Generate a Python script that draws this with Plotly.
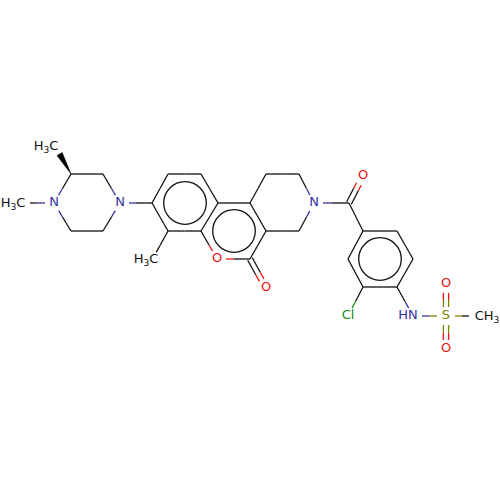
import plotly.graph_objects as go

# Atoms
elementos = ['C', 'N', 'C', 'C', 'N', 'C', 'C', 'C',
             'C', 'C', 'C', 'C', 'C', 'C', 'C',
             'O', 'C', 'O', 'C', 'C', 'C', 'C', 'N', 'C',
             'C', 'O', 'C', 'C', 'C', 'C', 'C', 'C',
             'Cl', 'N', 'S', 'O', 'O', 'C']
atom_x = [21, 54, 71, 103, 120, 103, 71, 55,
          152, 168, 201, 218, 201, 168, 152,
          217, 250, 266, 250, 266, 266, 299, 314, 299,
          349, 363, 363, 397, 413, 397, 363, 348,
          348, 413, 446, 446, 446, 478]
atom_y = [203, 203, 174, 174, 203, 231, 231, 146,
          203, 174, 174, 203, 231, 231, 260,
          259, 259, 288, 203, 231, 174, 174, 203, 231,
          203, 176, 231, 231, 259, 287, 287, 259,
          316, 316, 316, 284, 349, 316]

# (atom, atom, order)
ligacoes = [(0, 1, 1), (1, 2, 1), (2, 3, 1), (3, 4, 1), (4, 5, 1), (5, 6, 1), (6, 1, 1),
            (4, 8, 1), (8, 9, 1), (9, 10, 1), (10, 11, 1), (11, 12, 1), (12, 13, 1), (13, 8, 1),
            (13, 14, 1), (12, 15, 1), (15, 16, 1), (16, 17, 2), (16, 19, 1), (19, 18, 1), (18, 11, 1),
            (18, 20, 1), (20, 21, 1), (21, 22, 1), (22, 23, 1), (23, 19, 1),
            (22, 24, 1), (24, 25, 2), (24, 26, 1), (26, 27, 1), (27, 28, 1), (28, 29, 1),
            (29, 30, 1), (30, 31, 1), (31, 26, 1), (30, 32, 1), (29, 33, 1),
            (33, 34, 1), (34, 35, 2), (34, 36, 2), (34, 37, 1)]

aneis_x = [185, 234, 380]
aneis_y = [203, 231, 259]
aneis_r = [21.3, 21.3, 21.3]

rotulos = ['H<sub>3</sub>C', 'N', 'N', 'H<sub>3</sub>C', 'H<sub>3</sub>C', 'O', 'O', 'N', 'O',
           'Cl', 'HN', 'S', 'O', 'O', 'CH<sub>3</sub>']
rotulos_x = [13, 54, 120, 46, 146, 217, 266, 314, 363, 348, 408, 446, 446, 446, 487]
rotulos_y = [204, 203, 203, 147, 260, 259, 288, 203, 176, 316, 316, 316, 284, 349, 317]
rotulos_cor = ['#111111', '#3333a0', '#3333a0', '#111111', '#111111', '#f01010', '#f01010', '#3333a0',
               '#f01010', '#109010', '#3333a0', '#808000', '#f01010', '#f01010', '#111111']

cores = {'C': '#111111', 'N': '#3333a0', 'O': '#f01010', 'Cl': '#109010', 'S': '#808000'}

# Atoms that carry a label, so the bond stops short of them
com_rotulo = {0, 1, 4, 7, 14, 15, 17, 22, 25, 32, 33, 34, 35, 36, 37}
folga = 9

fig = go.Figure()

segmentos = {}
for a, b, ordem in ligacoes:
    xa, ya, xb, yb = atom_x[a], atom_y[a], atom_x[b], atom_y[b]
    comp = ((xb - xa) ** 2 + (yb - ya) ** 2) ** 0.5
    ux, uy = (xb - xa) / comp, (yb - ya) / comp
    ini = folga if a in com_rotulo else 0
    fim = comp - folga if b in com_rotulo else comp
    for d in ([-2.6, 2.6] if ordem == 2 else [0]):
        ox, oy = -uy * d, ux * d
        p0 = (xa + ux * ini + ox, ya + uy * ini + oy)
        m = (xa + ux * comp / 2 + ox, ya + uy * comp / 2 + oy)
        p1 = (xa + ux * fim + ox, ya + uy * fim + oy)
        for cor, q0, q1 in [(cores[elementos[a]], p0, m), (cores[elementos[b]], m, p1)]:
            s = segmentos.setdefault(cor, ([], []))
            s[0].extend([q0[0], q1[0], None])
            s[1].extend([q0[1], q1[1], None])

for cor, (xs, ys) in segmentos.items():
    fig.add_trace(go.Scatter(x=xs, y=ys, mode='lines', line=dict(color=cor, width=1.3), hoverinfo='skip'))

# Stereo wedge from the ring carbon to its methyl
ux = atom_x[7] - atom_x[2]
uy = atom_y[7] - atom_y[2]
comp = (ux ** 2 + uy ** 2) ** 0.5
ux, uy = ux / comp, uy / comp
ponta_x = atom_x[2] + ux * 23
ponta_y = atom_y[2] + uy * 23
fig.add_trace(go.Scatter(
    x=[atom_x[2], ponta_x - uy * 3, ponta_x + uy * 3, atom_x[2]],
    y=[atom_y[2], ponta_y + ux * 3, ponta_y - ux * 3, atom_y[2]],
    mode='lines', fill='toself', fillcolor='#000000', line=dict(color='#000000', width=0.5), hoverinfo='skip'))

fig.add_trace(go.Scatter(
    x=rotulos_x, y=rotulos_y, mode='text', text=rotulos, textposition='middle center',
    textfont=dict(family='DejaVu Sans', size=13, color=rotulos_cor), hoverinfo='skip'))

for cx, cy, r in zip(aneis_x, aneis_y, aneis_r):
    fig.add_shape(type='circle', xref='x', yref='y', x0=cx - r, x1=cx + r, y0=cy - r, y1=cy + r,
                  line=dict(color='#111111', width=1.3))

fig.update_layout(
    width=500, height=500, showlegend=False,
    margin=dict(l=0, r=0, t=0, b=0),
    paper_bgcolor='white', plot_bgcolor='white',
    xaxis=dict(range=[0, 500], visible=False),
    yaxis=dict(range=[500, 0], visible=False),
)

# The page's default body margin would push the picture 8 px in and clip the labels
fig.write_html("out.html", config=dict(displayModeBar=False),
               post_script="document.body.style.margin = '0';")
